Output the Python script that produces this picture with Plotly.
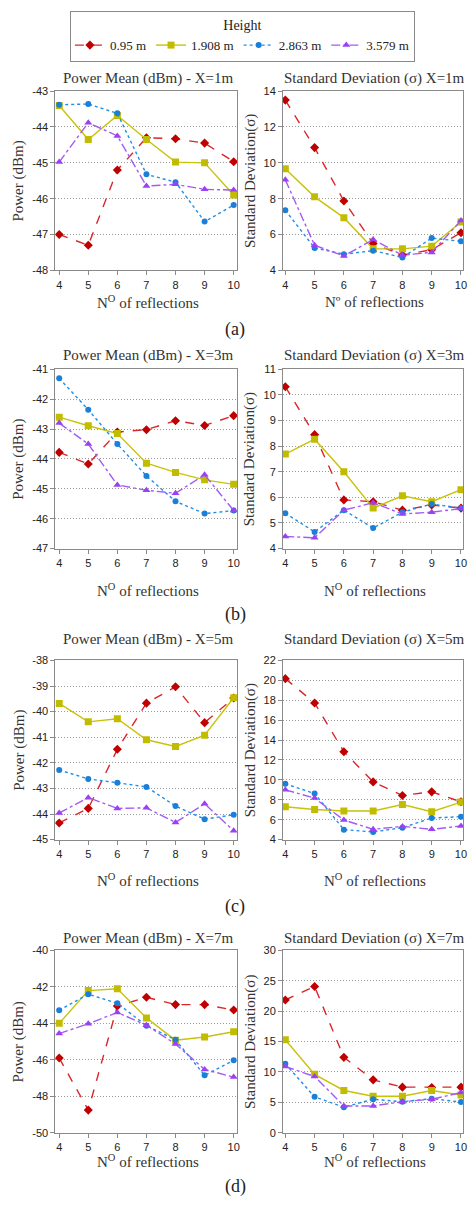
import plotly.graph_objects as go

# ---------------- data ----------------
reflections = [4, 5, 6, 7, 8, 9, 10]
heights = ["0.95 m", "1.908 m", "2.863 m", "3.579 m"]

# X = 1 m
pm_x1_h095 = [-47.0, -47.3, -45.2, -44.3, -44.33, -44.45, -44.97]
pm_x1_h1908 = [-43.4, -44.35, -43.68, -44.35, -44.98, -45.0, -45.9]
pm_x1_h2863 = [-43.38, -43.36, -43.62, -45.32, -45.54, -46.64, -46.18]
pm_x1_h3579 = [-44.98, -43.88, -44.25, -45.65, -45.6, -45.74, -45.76]
sd_x1_h095 = [13.5, 10.85, 7.87, 5.5, 4.85, 5.15, 6.1]
sd_x1_h1908 = [9.67, 8.1, 6.94, 5.2, 5.2, 5.35, 6.7]
sd_x1_h2863 = [7.35, 5.25, 4.9, 5.1, 4.72, 5.8, 5.62]
sd_x1_h3579 = [9.05, 5.4, 4.8, 5.72, 4.85, 5.0, 6.78]

# X = 3 m
pm_x3_h095 = [-43.78, -44.17, -43.1, -43.02, -42.72, -42.88, -42.55]
pm_x3_h1908 = [-42.6, -42.89, -43.15, -44.14, -44.45, -44.7, -44.85]
pm_x3_h2863 = [-41.3, -42.35, -43.5, -44.57, -45.42, -45.83, -45.73]
pm_x3_h3579 = [-42.8, -43.5, -44.87, -45.05, -45.15, -44.53, -45.73]
sd_x3_h095 = [10.32, 8.45, 5.9, 5.83, 5.5, 5.7, 5.58]
sd_x3_h1908 = [7.69, 8.27, 7.0, 5.58, 6.06, 5.83, 6.3]
sd_x3_h2863 = [5.38, 4.65, 5.5, 4.8, 5.42, 5.74, 5.58]
sd_x3_h3579 = [4.47, 4.42, 5.5, 5.79, 5.35, 5.42, 5.56]

# X = 5 m
pm_x5_h095 = [-44.35, -43.78, -41.47, -39.67, -39.03, -40.43, -39.47]
pm_x5_h1908 = [-39.68, -40.4, -40.28, -41.1, -41.36, -40.92, -39.46]
pm_x5_h2863 = [-42.28, -42.63, -42.78, -42.94, -43.69, -44.2, -44.03]
pm_x5_h3579 = [-43.96, -43.36, -43.78, -43.76, -44.33, -43.6, -44.65]
sd_x5_h095 = [20.17, 17.73, 12.83, 9.8, 8.43, 8.8, 7.8]
sd_x5_h1908 = [7.3, 7.03, 6.87, 6.87, 7.53, 6.8, 7.77]
sd_x5_h2863 = [9.6, 8.63, 5.0, 4.77, 5.2, 6.17, 6.3]
sd_x5_h3579 = [9.0, 8.17, 5.97, 5.03, 5.33, 5.03, 5.37]

# X = 7 m
pm_x7_h095 = [-45.9, -48.76, -43.05, -42.57, -42.97, -42.97, -43.27]
pm_x7_h1908 = [-44.0, -42.2, -42.1, -43.7, -44.93, -44.75, -44.46]
pm_x7_h2863 = [-43.28, -42.4, -42.9, -44.13, -44.9, -46.85, -46.03]
pm_x7_h3579 = [-44.56, -44.02, -43.4, -44.1, -45.13, -46.53, -46.95]
sd_x7_h095 = [21.85, 24.07, 12.4, 8.7, 7.5, 7.45, 7.5]
sd_x7_h1908 = [15.3, 9.6, 6.95, 6.0, 6.0, 6.95, 6.2]
sd_x7_h2863 = [11.35, 5.9, 4.2, 5.5, 5.1, 5.6, 5.05]
sd_x7_h3579 = [10.9, 9.25, 4.4, 4.4, 5.1, 5.5, 6.6]

# tick values
x_ticks = [4, 5, 6, 7, 8, 9, 10]
pm_x1_ticks = [-48, -47, -46, -45, -44, -43]
sd_x1_ticks = [4, 6, 8, 10, 12, 14]
pm_x3_ticks = [-47, -46, -45, -44, -43, -42, -41]
sd_x3_ticks = [4, 5, 6, 7, 8, 9, 10, 11]
pm_x5_ticks = [-45, -44, -43, -42, -41, -40, -39, -38]
sd_x5_ticks = [4, 6, 8, 10, 12, 14, 16, 18, 20, 22]
pm_x7_ticks = [-50, -48, -46, -44, -42, -40]
sd_x7_ticks = [0, 5, 10, 15, 20, 25, 30]

panel_titles_pm = ["Power Mean (dBm) - X=1m", "Power Mean (dBm) - X=3m",
                   "Power Mean (dBm) - X=5m", "Power Mean (dBm) - X=7m"]
panel_titles_sd = ["Standard Deviation (σ) X=1m", "Standard Deviation (σ) X=3m",
                   "Standard Deviation (σ) X=5m", "Standard Deviation (σ) X=7m"]
panel_labels = ["(a)", "(b)", "(c)", "(d)"]
xlabels_pm = ["N<sup>O</sup> of reflections"] * 4
xlabels_sd = ["Nº of reflections", "N<sup>O</sup> of reflections",
              "N<sup>O</sup> of reflections", "N<sup>O</sup> of reflections"]

pm_data = [
    [pm_x1_h095, pm_x1_h1908, pm_x1_h2863, pm_x1_h3579],
    [pm_x3_h095, pm_x3_h1908, pm_x3_h2863, pm_x3_h3579],
    [pm_x5_h095, pm_x5_h1908, pm_x5_h2863, pm_x5_h3579],
    [pm_x7_h095, pm_x7_h1908, pm_x7_h2863, pm_x7_h3579],
]
sd_data = [
    [sd_x1_h095, sd_x1_h1908, sd_x1_h2863, sd_x1_h3579],
    [sd_x3_h095, sd_x3_h1908, sd_x3_h2863, sd_x3_h3579],
    [sd_x5_h095, sd_x5_h1908, sd_x5_h2863, sd_x5_h3579],
    [sd_x7_h095, sd_x7_h1908, sd_x7_h2863, sd_x7_h3579],
]
pm_ticks = [pm_x1_ticks, pm_x3_ticks, pm_x5_ticks, pm_x7_ticks]
sd_ticks = [sd_x1_ticks, sd_x3_ticks, sd_x5_ticks, sd_x7_ticks]

# ---------------- style ----------------
W, H = 471, 1205
SERIF = "Liberation Serif"
SANS = "Liberation Sans"

line_colors = ["#D9262B", "#C8C20A", "#1E8FE6", "#A35BF5"]
marker_colors = ["#C00000", "#C2BC00", "#1A7FD8", "#9B40F5"]
dashes = ["dash", "solid", "dot", "dashdot"]
symbols = ["diamond", "square", "circle", "triangle-up"]
msizes = [7, 7, 6, 7]

# row geometry in pixels (top, bottom) of plot areas
rows_px = [(86, 267), (367, 548), (661, 842), (954, 1138)]
title_y_px = [73, 353, 640, 942]
xlabel_y_px = [299, 590, 883, 1167]
plabel_y_px = [327, 615, 910, 1192]
left_px = (55, 239)
right_px = (285, 467)


def fx(p):
    return p / W


def fy(p):
    return 1 - p / H


fig = go.Figure()
annotations = []
layout_axes = {}

ax = 0
for r in range(4):
    top, bot = rows_px[r]
    for side in range(2):
        ax += 1
        xs = "x" if ax == 1 else f"x{ax}"
        ys = "y" if ax == 1 else f"y{ax}"
        data = pm_data[r] if side == 0 else sd_data[r]
        ticks = pm_ticks[r] if side == 0 else sd_ticks[r]
        dom = left_px if side == 0 else right_px
        xrange_ = [3.87, 10.13] if side == 0 else [3.92, 10.07]
        for k in range(4):
            fig.add_trace(go.Scatter(
                x=reflections, y=data[k], xaxis=xs, yaxis=ys,
                mode="lines+markers", name=heights[k],
                legendgroup=heights[k], showlegend=(ax == 1),
                line=dict(color=line_colors[k], dash=dashes[k], width=1.4),
                marker=dict(symbol=symbols[k], size=msizes[k],
                            color=marker_colors[k]),
            ))
        common = dict(showline=True, mirror=True, linecolor="#8a8a8a",
                      linewidth=1, ticks="outside", ticklen=4,
                      tickcolor="#8a8a8a",
                      tickfont=dict(family=SANS, size=11, color="#222"),
                      zeroline=False)
        layout_axes["xaxis" if ax == 1 else f"xaxis{ax}"] = dict(
            domain=[fx(dom[0]), fx(dom[1])], anchor=ys, range=xrange_,
            tickvals=x_ticks, showgrid=False, **common)
        layout_axes["yaxis" if ax == 1 else f"yaxis{ax}"] = dict(
            domain=[fy(bot), fy(top)], anchor=xs,
            range=[ticks[0], ticks[-1]], tickvals=ticks,
            ticktext=[str(t) for t in ticks],
            showgrid=True, gridcolor="#9a9a9a", griddash="1px,2px",
            gridwidth=1, **common)
        # subplot title
        cx = (dom[0] + dom[1]) / 2 + 2
        annotations.append(dict(
            text=(panel_titles_pm[r] if side == 0 else panel_titles_sd[r]),
            x=fx(cx), y=fy(title_y_px[r]), xref="paper", yref="paper",
            showarrow=False, xanchor="center", yanchor="middle",
            font=dict(family=SERIF, size=15, color="#333")))
        # x axis title
        annotations.append(dict(
            text=(xlabels_pm[r] if side == 0 else xlabels_sd[r]),
            x=fx(cx), y=fy(xlabel_y_px[r]), xref="paper", yref="paper",
            showarrow=False, xanchor="center", yanchor="middle",
            font=dict(family=SERIF, size=15, color="#333")))
        # y axis title
        annotations.append(dict(
            text=("Power (dBm)" if side == 0 else "Standard Deviation(σ)"),
            x=fx(18 if side == 0 else 252), y=fy((top + bot) / 2),
            xref="paper", yref="paper", textangle=-90,
            showarrow=False, xanchor="center", yanchor="middle",
            font=dict(family=SERIF, size=15, color="#333")))
    annotations.append(dict(
        text=panel_labels[r], x=fx(237), y=fy(plabel_y_px[r]),
        xref="paper", yref="paper", showarrow=False,
        xanchor="center", yanchor="middle",
        font=dict(family=SERIF, size=18, color="#222")))

fig.update_layout(
    width=W, height=H,
    margin=dict(l=0, r=0, t=0, b=0),
    paper_bgcolor="white", plot_bgcolor="white",
    annotations=annotations,
    legend=dict(
        orientation="h", x=fx(244), y=fy(5), xanchor="center", yanchor="top",
        bordercolor="#8a8a8a", borderwidth=1, bgcolor="white",
        font=dict(family=SERIF, size=13, color="#222"),
        title=dict(text="Height", side="top center",
                   font=dict(family=SERIF, size=14, color="#222")),
        itemwidth=30, tracegroupgap=0,
    ),
    **layout_axes,
)

fig.write_html("out.html")
